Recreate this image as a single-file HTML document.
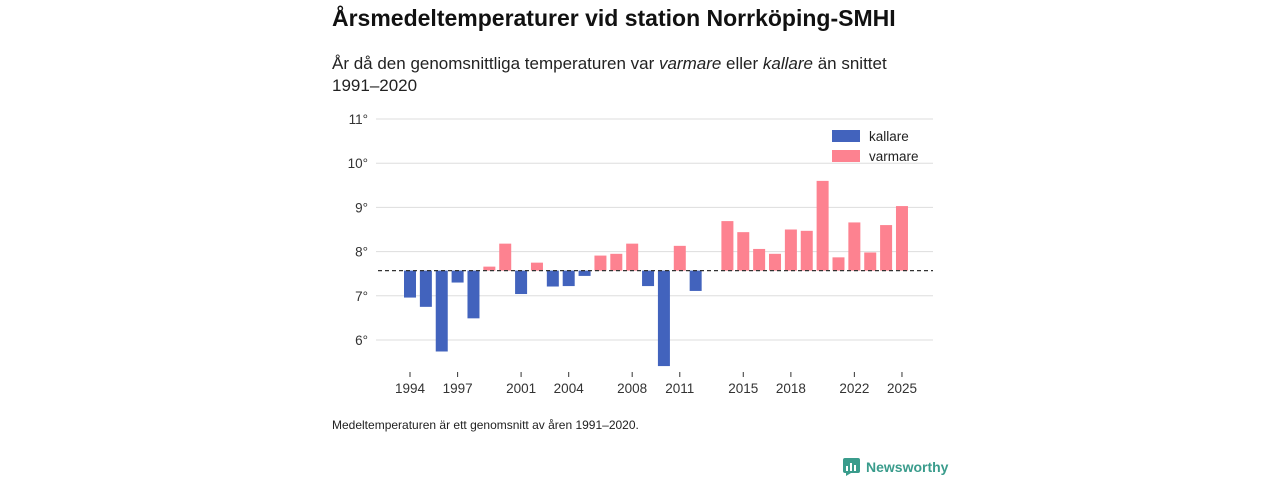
<!DOCTYPE html>
<html><head><meta charset="utf-8">
<style>
body{margin:0;width:1280px;height:480px;background:#fff;font-family:"Liberation Sans",sans-serif;color:#111;position:relative;overflow:hidden}
.t{position:absolute;left:332px;top:5px;font-size:23px;font-weight:bold}
.s{position:absolute;left:332px;top:53px;font-size:17px;line-height:22px;width:600px;color:#222}
.f{position:absolute;left:332px;top:418px;font-size:12px;color:#222}
.logo{position:absolute;left:843px;top:458px;font-size:14px;font-weight:bold;color:#3a9c8c;display:flex;align-items:center;gap:6px}
svg{position:absolute;left:0;top:0}
</style></head><body>
<div class="t">Årsmedeltemperaturer vid station Norrköping-SMHI</div>
<div class="s">År då den genomsnittliga temperaturen var <i>varmare</i> eller <i>kallare</i> än snittet 1991–2020</div>
<svg id="c" width="1280" height="480"></svg>
<div class="f">Medeltemperaturen är ett genomsnitt av åren 1991–2020.</div>
<div class="logo"><svg width="17" height="18" style="position:static"><rect x="0" y="0" width="17" height="15" rx="2" fill="#3a9c8c"/><polygon points="3,15 8,15 3,18" fill="#3a9c8c"/><rect x="3" y="8" width="2" height="5" fill="#fff"/><rect x="7" y="5" width="2" height="8" fill="#fff"/><rect x="11" y="7" width="2" height="6" fill="#fff"/></svg>Newsworthy</div>
<script>
const years=[1994,1995,1996,1997,1998,1999,2000,2001,2002,2003,2004,2005,2006,2007,2008,2009,2010,2011,2012,2014,2015,2016,2017,2018,2019,2020,2021,2022,2023,2024,2025];
const temps=[6.96,6.75,5.74,7.30,6.49,7.66,8.18,7.04,7.75,7.21,7.22,7.45,7.91,7.95,8.18,7.22,5.41,8.13,7.11,8.69,8.44,8.06,7.95,8.50,8.47,9.60,7.87,8.66,7.98,8.60,9.03];
const baseline=7.57;
const yTicks=[6,7,8,9,10,11];
const xTicks=[1994,1997,2001,2004,2008,2011,2015,2018,2022,2025];
const NS='http://www.w3.org/2000/svg',svg=document.getElementById('c');
const y=v=>340-(v-6)*44.2, x=yr=>410+(yr-1994)*15.87;
function mk(t,a){const e=document.createElementNS(NS,t);for(const k in a)e.setAttribute(k,a[k]);svg.appendChild(e);return e;}
yTicks.forEach(v=>{
 const l=mk('line',{x1:376,x2:933,y1:y(v),y2:y(v),stroke:'#ddd'});
 
 
 const t=mk('text',{x:368,y:y(v)+5,'text-anchor':'end','font-size':13.5,fill:'#333'});t.textContent=v+'°';
 
 
});
years.forEach((yr,i)=>{
 const v=temps[i],top=y(Math.max(v,baseline)),bot=y(Math.min(v,baseline));
 const r=mk('rect',{x:x(yr)-6,y:top,width:12,height:bot-top,fill:v<baseline?'#4263bd':'#fd8290'});
 
 
});
const d=mk('line',{x1:378,x2:933,y1:y(baseline),y2:y(baseline),stroke:'#333','stroke-width':1.3,'stroke-dasharray':'4,3'});


xTicks.forEach(yr=>{
 const l=mk('line',{x1:x(yr),x2:x(yr),y1:372,y2:377,stroke:'#333'});
 
 
 const t=mk('text',{x:x(yr),y:393,'text-anchor':'middle','font-size':13.5,fill:'#333'});t.textContent=yr;
 
 
});
[['kallare','#4263bd',136],['varmare','#fd8290',156]].forEach(([n,c,yy])=>{
 const r=mk('rect',{x:832,y:yy-6,width:28,height:12,fill:c});
 
 
 const t=mk('text',{x:869,y:yy+5,'font-size':13.5,fill:'#222'});t.textContent=n;
 
 
});
</script>
</body></html>
